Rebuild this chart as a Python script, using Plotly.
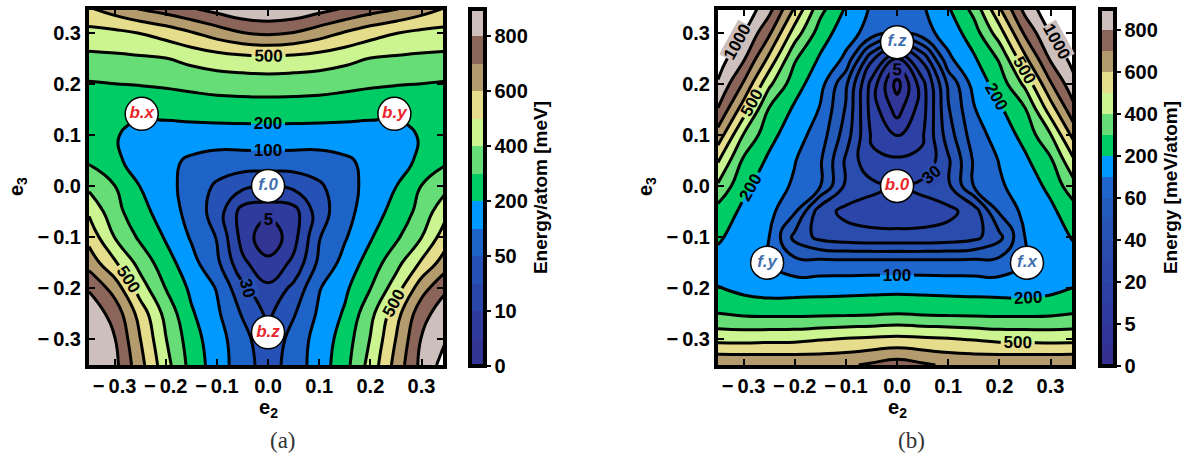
import numpy as np
import plotly.graph_objects as go

# ---------------------------------------------------------------------------
# Sampling grid in (e2, e3) strain space
# ---------------------------------------------------------------------------
e2_grid = [-0.35, -0.30, -0.25, -0.20, -0.15, -0.10, -0.05, 0.0,
           0.05, 0.10, 0.15, 0.20, 0.25, 0.30, 0.35]
e3_grid = [0.35, 0.30, 0.25, 0.20, 0.15, 0.10, 0.05, 0.0,
           -0.05, -0.10, -0.15, -0.20, -0.25, -0.30, -0.35]

# Energy/atom [meV], panel (a); one row per e3 value (top to bottom)
energy_a = [
    [600, 660, 720, 760, 810, 900, 980, 1000, 980, 900, 810, 760, 720, 660, 600],
    [470, 479, 505, 543, 595, 650, 700, 720, 700, 650, 595, 543, 505, 479, 470],
    [375, 381, 388, 400, 430, 456, 472, 481, 472, 456, 430, 400, 388, 381, 375],
    [292, 300, 307, 317, 330, 342, 347, 350, 347, 342, 330, 317, 307, 300, 292],
    [250, 228, 215, 223, 238, 249, 253, 255, 253, 249, 238, 223, 215, 228, 250],
    [240, 205, 180, 170, 162, 158, 158, 159, 158, 158, 162, 170, 180, 205, 240],
    [285, 210, 179, 126, 92, 80, 81, 82, 81, 80, 92, 126, 179, 210, 285],
    [375, 302, 198, 133, 80, 47, 35, 33, 35, 47, 80, 133, 198, 302, 375],
    [485, 333, 236, 150, 83, 41, 8, 6.6, 8, 41, 83, 150, 236, 333, 485],
    [565, 398, 282, 190, 95, 49, 8.2, 1, 8.2, 49, 95, 190, 282, 398, 565],
    [660, 514, 363, 244, 133, 61, 14, 6.4, 14, 61, 133, 244, 363, 514, 660],
    [790, 660, 450, 298, 180, 97, 35, 14, 35, 97, 180, 298, 450, 660, 790],
    [930, 763, 560, 369, 213, 118, 48, 26, 48, 118, 213, 369, 560, 763, 930],
    [950, 812, 603, 405, 246, 138, 72, 33, 72, 138, 246, 405, 603, 812, 1005],
    [990, 857, 635, 437, 264, 148, 74, 40, 74, 148, 264, 437, 635, 857, 1100],
]

# Energy [meV/atom], panel (b); one row per e3 value (top to bottom)
energy_b = [
    [1300, 1150, 883, 598, 339, 194, 96, 85, 96, 194, 339, 598, 883, 1150, 1300],
    [1180, 1010, 720, 456, 253, 142, 85, 65, 85, 142, 253, 456, 720, 1010, 1180],
    [1100, 832, 579, 314, 188, 93, 33, 10.5, 33, 93, 188, 314, 579, 832, 1100],
    [980, 690, 424, 242, 138, 52, 16.7, 1.2, 16.7, 52, 138, 242, 424, 690, 980],
    [795, 550, 291, 184, 97, 49, 15.9, 3.7, 15.9, 49, 97, 184, 291, 550, 795],
    [660, 395, 232, 142, 82, 45, 19, 9.2, 19, 45, 82, 142, 232, 395, 660],
    [510, 283, 182, 105, 65, 38.4, 21.5, 21.7, 21.5, 38.4, 65, 105, 182, 283, 510],
    [385, 222, 151, 94, 61, 38, 33, 30.5, 33, 38, 61, 94, 151, 222, 385],
    [260, 180, 128, 65, 34, 27.5, 25, 24, 25, 27.5, 34, 65, 128, 180, 260],
    [215, 150, 100, 47, 37, 34, 33, 33, 33, 34, 37, 47, 100, 150, 215],
    [165, 150, 101, 74, 74, 74, 74, 74, 74, 74, 74, 74, 101, 150, 165],
    [203, 170, 150, 155, 160, 163, 168, 169, 168, 163, 160, 155, 150, 170, 203],
    [302, 285, 280, 280, 282, 285, 290, 302, 290, 285, 282, 280, 280, 285, 302],
    [471, 470, 475, 478, 495, 510, 519, 529, 519, 510, 495, 478, 475, 470, 471],
    [695, 690, 688, 685, 680, 685, 715, 750, 715, 685, 680, 685, 688, 690, 695],
]

# Contour levels (meV) and the levels whose labels are placed by the library
levels_a = [0, 5, 10, 30, 50, 100, 200, 300, 400, 500, 600, 700, 800, 1000]
levels_b = [0, 2, 5, 10, 20, 30, 40, 50, 60, 100, 200, 300, 400, 500, 600,
            700, 800, 1000]
labelled_a = [5, 100, 200, 500]
labelled_b = [5, 100, 200, 500]

# Band colours, lowest band first; the last entry is the band above 1000 meV
colors_a = ['#333594', '#2f3c9e', '#2a46a8', '#2552b4', '#1e64c8', '#0099ff',
            '#00cc66', '#66dd77', '#ccf591', '#e6dd8c', '#b39b6d', '#8b6559',
            '#cdbfbc', '#ffffff']
colors_b = ['#333092', '#313598', '#2f3a9e', '#2d40a3', '#2b46a8', '#294cad',
            '#2653b4', '#235bbb', '#1e66cc', '#0099ff',
            '#00cc66', '#66dd77', '#ccf591', '#e6dd8c', '#b39b6d', '#8b6559',
            '#cdbfbc', '#ffffff']

# Colour-bar tick labels (meV)
cbar_ticks_a = [0, 10, 50, 200, 400, 600, 800]
cbar_ticks_b = [0, 5, 20, 40, 60, 200, 400, 600, 800]

# Axis ticks
axis_tick_vals = [-0.3, -0.2, -0.1, 0.0, 0.1, 0.2, 0.3]
axis_tick_text = ['\u2212\u20090.3', '\u2212\u20090.2', '\u2212\u20090.1',
                  '0.0', '0.1', '0.2', '0.3']

# Marked crystal structures
points_a_name = ['b.x', 'b.y', 'f.0', 'b.z']
points_a_e2 = [-0.247, 0.247, 0.0, 0.0]
points_a_e3 = [0.141, 0.141, 0.0, -0.286]
points_b_name = ['f.z', 'b.0', 'f.y', 'f.x']
points_b_e2 = [0.0, 0.0, -0.254, 0.254]
points_b_e3 = [0.281, 0.0, -0.150, -0.150]

# Hand-placed contour labels: panel, text, position, angle, background
manual_labels = [
    dict(panel='a', text='30', e2=-0.040, e3=-0.200, angle=75, bg='#2850b0'),
    dict(panel='b', text='30', e2=0.068, e3=0.022, angle=-40, bg='#2a49aa'),
    dict(panel='b', text='1000', e2=-0.312, e3=0.283, angle=-61, bg='#cdbfbc'),
    dict(panel='b', text='1000', e2=0.312, e3=0.283, angle=61, bg='#cdbfbc'),
]

RED = '#e8262b'
BLUE = '#3f6fae'
FONT = 'Liberation Sans'


def to_index(z, levels):
    """Map energies onto the level index (0, 1, 2, ...) so that the
    non-uniform contour levels become equally spaced."""
    xp = list(levels) + [levels[-1] + 2000]
    fp = list(range(len(levels))) + [len(levels) - 1 + 10]
    return np.interp(np.asarray(z, dtype=float), xp, fp)


def stepped_scale(colors):
    n = len(colors) - 1
    scale = []
    for k, c in enumerate(colors):
        lo = max(0.0, (k - 0.5) / n)
        hi = min(1.0, (k + 0.5) / n)
        scale.append([lo, c])
        scale.append([hi, c])
    return scale


def bar_scale(colors):
    n = len(colors)
    scale = []
    for k, c in enumerate(colors):
        scale.append([k / n, c])
        scale.append([(k + 1) / n, c])
    return scale


fig = go.Figure()

SMOOTH = 1.3
LINE_W = 3.0


def add_panel(energy, levels, labelled, colors, xa, ya):
    zi = to_index(energy, levels)
    nlev = len(levels) - 1
    # filled bands
    fig.add_trace(go.Contour(
        x=e2_grid, y=e3_grid, z=zi, xaxis=xa, yaxis=ya,
        autocontour=False,
        contours=dict(start=1, end=nlev, size=1, coloring='fill',
                      showlines=False),
        colorscale=stepped_scale(colors), showscale=False,
        line=dict(width=0, smoothing=SMOOTH), hoverinfo='skip'))
    # contour lines, one trace per level
    for k in range(1, nlev + 1):
        lev = levels[k]
        if lev in labelled:
            z = zi * lev / k
            contours = dict(start=lev, end=lev, size=lev, coloring='none',
                            showlabels=True,
                            labelfont=dict(family=FONT, size=17, color='black',
                                           weight='bold'))
        else:
            z = zi
            contours = dict(start=k, end=k, size=1, coloring='none',
                            showlabels=False)
        fig.add_trace(go.Contour(
            x=e2_grid, y=e3_grid, z=z, xaxis=xa, yaxis=ya,
            autocontour=False, contours=contours, showscale=False,
            line=dict(color='black', width=LINE_W, smoothing=SMOOTH),
            hoverinfo='skip'))


add_panel(energy_a, levels_a, labelled_a, colors_a, 'x', 'y')
add_panel(energy_b, levels_b, labelled_b, colors_b, 'x2', 'y2')


def add_points(names, e2, e3, xa, ya):
    fig.add_trace(go.Scatter(
        x=e2, y=e3, xaxis=xa, yaxis=ya, mode='markers+text',
        text=names, textposition='middle center',
        marker=dict(size=33, color='white',
                    line=dict(color='black', width=1.5)),
        textfont=dict(family=FONT, size=17, weight='bold', style='italic',
                      color=[RED if n.startswith('b') else BLUE for n in names]),
        hoverinfo='skip', showlegend=False))


add_points(points_a_name, points_a_e2, points_a_e3, 'x', 'y')
add_points(points_b_name, points_b_e2, points_b_e3, 'x2', 'y2')

# colour bars (drawn from an invisible helper trace per panel)
H = 460.0
W = 1188.0
bar_top, bar_bot = 9, 366


def add_colorbar(levels, colors, ticks, title, x_px, xa, ya):
    nb = len(colors) - 1
    fig.add_trace(go.Scatter(
        x=[None], y=[None], xaxis=xa, yaxis=ya, mode='markers',
        marker=dict(color=[0], cmin=0, cmax=nb,
                    colorscale=bar_scale(colors[:-1]), showscale=True,
                    colorbar=dict(
                        x=x_px / W, xanchor='left', xpad=0, ypad=0,
                        y=1 - (bar_top + bar_bot) / 2 / H, yanchor='middle',
                        len=(bar_bot - bar_top) / H, lenmode='fraction',
                        thickness=15, outlinewidth=4, outlinecolor='black',
                        ticks='outside', ticklen=4, tickwidth=2,
                        tickcolor='black',
                        tickvals=[levels.index(t) for t in ticks],
                        ticktext=[str(t) for t in ticks],
                        tickfont=dict(family=FONT, size=20, color='black',
                                      weight='bold'),
                        title=dict(text=title, side='right',
                                   font=dict(family=FONT, size=19,
                                             color='black', weight='bold')))),
        hoverinfo='skip', showlegend=False))


add_colorbar(levels_a, colors_a, cbar_ticks_a, 'Energy/atom [meV]', 470, 'x', 'y')
add_colorbar(levels_b, colors_b, cbar_ticks_b, 'Energy [meV/atom]', 1100, 'x2', 'y2')

axis_common = dict(
    showline=True, linewidth=4, linecolor='black', mirror='ticks',
    ticks='inside', ticklen=6, tickwidth=2, tickcolor='black',
    showgrid=False, zeroline=False,
    tickvals=axis_tick_vals, ticktext=axis_tick_text,
    tickfont=dict(family=FONT, size=20, color='black', weight='bold'),
)

y_dom = [1 - 365 / H, 1 - 10 / H]
fig.update_layout(
    width=1188, height=460,
    margin=dict(l=0, r=0, t=0, b=0),
    paper_bgcolor='white', plot_bgcolor='white',
    showlegend=False,
    xaxis=dict(domain=[89 / W, 443 / W], range=[-0.35, 0.342], anchor='y',
               **axis_common),
    yaxis=dict(domain=y_dom, range=[-0.35, 0.344], anchor='x', **axis_common),
    xaxis2=dict(domain=[718 / W, 1072 / W], range=[-0.35, 0.342], anchor='y2',
                **axis_common),
    yaxis2=dict(domain=y_dom, range=[-0.35, 0.344], anchor='x2', **axis_common),
)

# axis titles, panel captions and hand-placed contour labels
ann = []
for cx in (268, 897):
    ann.append(dict(x=cx / W, y=1 - 408 / H, xref='paper', yref='paper',
                    xanchor='center', yanchor='middle',
                    text='<b>e<sub>2</sub></b>', showarrow=False,
                    font=dict(family=FONT, size=20, color='black')))
for cx in (17, 646):
    ann.append(dict(x=cx / W, y=1 - 187 / H, xref='paper', yref='paper',
                    xanchor='center', yanchor='middle',
                    text='<b>e<sub>3</sub></b>', showarrow=False, textangle=-90,
                    font=dict(family=FONT, size=20, color='black')))
ann.append(dict(x=283 / W, y=1 - 440 / H, xref='paper', yref='paper',
                xanchor='center', yanchor='middle',
                text='(a)', showarrow=False,
                font=dict(family='Liberation Serif', size=23, color='#333333')))
ann.append(dict(x=912 / W, y=1 - 440 / H, xref='paper', yref='paper',
                xanchor='center', yanchor='middle',
                text='(b)', showarrow=False,
                font=dict(family='Liberation Serif', size=23, color='#333333')))
for lab in manual_labels:
    xr, yr = ('x', 'y') if lab['panel'] == 'a' else ('x2', 'y2')
    ann.append(dict(x=lab['e2'], y=lab['e3'], xref=xr, yref=yr,
                    text='<b>' + lab['text'] + '</b>',
                    showarrow=False, textangle=lab['angle'], bgcolor=lab['bg'],
                    borderpad=0,
                    font=dict(family=FONT, size=17, color='black')))
fig.update_layout(annotations=ann)

fig.write_html("out.html")
